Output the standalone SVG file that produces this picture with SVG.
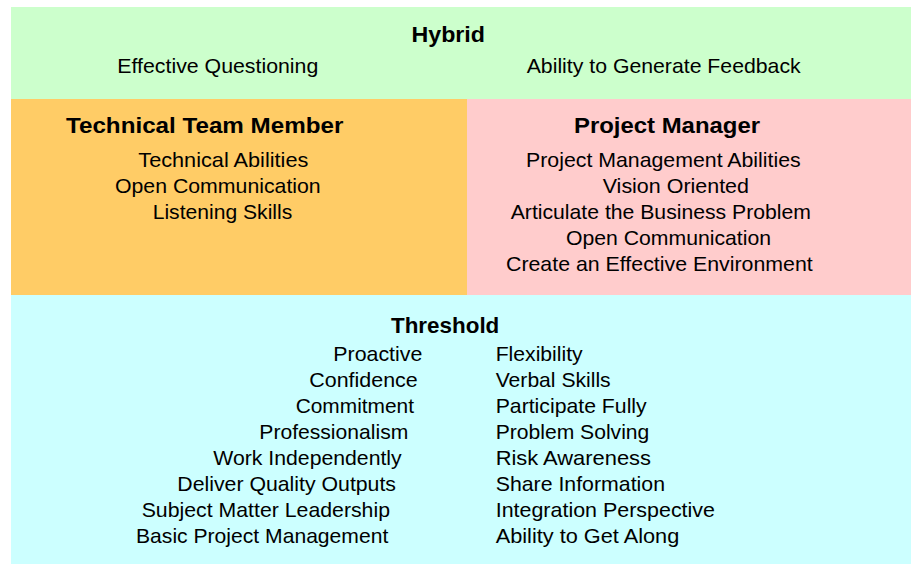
<svg xmlns="http://www.w3.org/2000/svg" width="911" height="564" viewBox="0 0 911 564">
<style>
text{font-family:"Liberation Sans",Arial,sans-serif;fill:#000;}
.t{font-size:22px;font-weight:bold;}
.r{font-size:21px;}
</style>
<rect width="911" height="564" fill="#fff"/>
<g id="hybrid">
<rect x="11" y="7" width="900" height="92" fill="#ccffcc"/>
<text class="t" x="411.5" y="42" textLength="73.5" lengthAdjust="spacingAndGlyphs">Hybrid</text>
<text class="r" x="117.3" y="73" textLength="201" lengthAdjust="spacingAndGlyphs">Effective Questioning</text>
<text class="r" x="526.7" y="73" textLength="274" lengthAdjust="spacingAndGlyphs">Ability to Generate Feedback</text>
</g>
<g id="technical-team-member">
<rect x="11" y="99" width="456" height="196" fill="#ffcc66"/>
<text class="t" x="66" y="133" textLength="277.3" lengthAdjust="spacingAndGlyphs">Technical Team Member</text>
<text class="r" x="138.3" y="166.5" textLength="170" lengthAdjust="spacingAndGlyphs">Technical Abilities</text>
<text class="r" x="115" y="192.5" textLength="205.7" lengthAdjust="spacingAndGlyphs">Open Communication</text>
<text class="r" x="152.7" y="218.5" textLength="139.6" lengthAdjust="spacingAndGlyphs">Listening Skills</text>
</g>
<g id="project-manager">
<rect x="467" y="99" width="444" height="196" fill="#ffcccc"/>
<text class="t" x="574" y="133" textLength="186" lengthAdjust="spacingAndGlyphs">Project Manager</text>
<text class="r" x="526" y="166.5" textLength="274.7" lengthAdjust="spacingAndGlyphs">Project Management Abilities</text>
<text class="r" x="602.7" y="192.5" textLength="146.3" lengthAdjust="spacingAndGlyphs">Vision Oriented</text>
<text class="r" x="510.7" y="218.5" textLength="300.3" lengthAdjust="spacingAndGlyphs">Articulate the Business Problem</text>
<text class="r" x="566" y="244.5" textLength="205" lengthAdjust="spacingAndGlyphs">Open Communication</text>
<text class="r" x="506" y="270.5" textLength="306.7" lengthAdjust="spacingAndGlyphs">Create an Effective Environment</text>
</g>
<g id="threshold">
<rect x="11" y="295" width="900" height="269" fill="#ccffff"/>
<text class="t" x="391" y="333" textLength="108.3" lengthAdjust="spacingAndGlyphs">Threshold</text>
<text class="r" x="333.3" y="361" textLength="89" lengthAdjust="spacingAndGlyphs">Proactive</text>
<text class="r" x="309.3" y="387" textLength="108.4" lengthAdjust="spacingAndGlyphs">Confidence</text>
<text class="r" x="295.7" y="413" textLength="118.3" lengthAdjust="spacingAndGlyphs">Commitment</text>
<text class="r" x="259.3" y="439" textLength="149" lengthAdjust="spacingAndGlyphs">Professionalism</text>
<text class="r" x="213.3" y="465" textLength="188.4" lengthAdjust="spacingAndGlyphs">Work Independently</text>
<text class="r" x="177.3" y="491" textLength="218.7" lengthAdjust="spacingAndGlyphs">Deliver Quality Outputs</text>
<text class="r" x="141.7" y="517" textLength="248.3" lengthAdjust="spacingAndGlyphs">Subject Matter Leadership</text>
<text class="r" x="136" y="543" textLength="252.3" lengthAdjust="spacingAndGlyphs">Basic Project Management</text>
<text class="r" x="495.7" y="361" textLength="87" lengthAdjust="spacingAndGlyphs">Flexibility</text>
<text class="r" x="495.7" y="387" textLength="115" lengthAdjust="spacingAndGlyphs">Verbal Skills</text>
<text class="r" x="495.7" y="413" textLength="151" lengthAdjust="spacingAndGlyphs">Participate Fully</text>
<text class="r" x="495.7" y="439" textLength="153.6" lengthAdjust="spacingAndGlyphs">Problem Solving</text>
<text class="r" x="495.7" y="465" textLength="155.3" lengthAdjust="spacingAndGlyphs">Risk Awareness</text>
<text class="r" x="495.7" y="491" textLength="169.3" lengthAdjust="spacingAndGlyphs">Share Information</text>
<text class="r" x="495.7" y="517" textLength="219.3" lengthAdjust="spacingAndGlyphs">Integration Perspective</text>
<text class="r" x="495.7" y="543" textLength="183.6" lengthAdjust="spacingAndGlyphs">Ability to Get Along</text>
</g>
</svg>
